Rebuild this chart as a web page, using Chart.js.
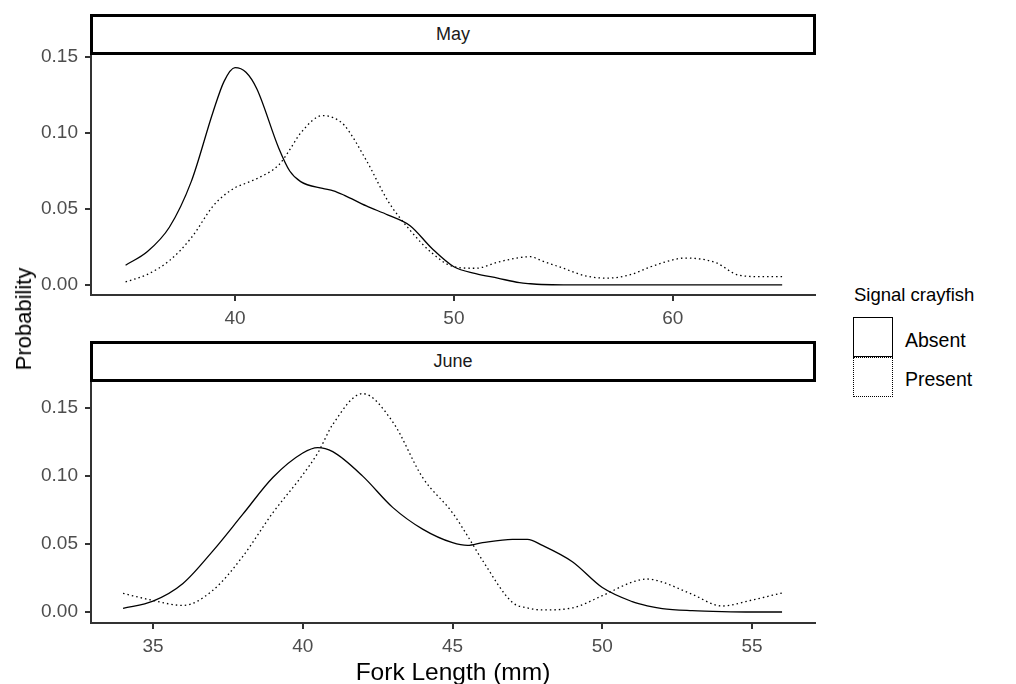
<!DOCTYPE html>
<html>
<head>
<meta charset="utf-8">
<script src="https://cdn.jsdelivr.net/npm/chart.js@4.4.0/dist/chart.umd.min.js"></script>
<style>
  body { margin: 0; background: #fff; font-family: "Liberation Sans", Arial, sans-serif; }
  #wrap { position: relative; width: 1016px; height: 684px; overflow: hidden; }
  .panel { position: absolute; left: 0; width: 820px; }
  .strip { position: absolute; left: 90px; width: 726px; height: 41px; box-sizing: border-box;
           border: 3px solid #000; background: #fff; color: #1a1a1a; font-size: 18px;
           text-align: center; line-height: 35px; }
  .ytitle { position: absolute; left: 24px; top: 319px; transform: translate(-50%, -50%) rotate(-90deg);
            font-size: 22px; color: #000; white-space: nowrap; }
  .xtitle { position: absolute; left: 453px; top: 672px; transform: translate(-50%, -50%);
            font-size: 24.5px; color: #000; white-space: nowrap; }
  .legtitle { position: absolute; left: 854px; top: 284px; font-size: 18.5px; color: #000; white-space: nowrap; }
  .key { position: absolute; left: 853px; width: 40px; height: 40px; box-sizing: border-box; }
  .keylab { position: absolute; left: 905px; font-size: 19.5px; color: #000; }
</style>
</head>
<body>
<div id="wrap">
  <div class="panel" style="top:30px;height:305px;"><canvas id="mayChart"></canvas></div>
  <div class="panel" style="top:357px;height:306px;"><canvas id="juneChart"></canvas></div>
  <div class="strip" style="top:14px;">May</div>
  <div class="strip" style="top:341px;">June</div>
  <div class="ytitle">Probability</div>
  <div class="xtitle">Fork Length (mm)</div>
  <div class="legtitle">Signal crayfish</div>
  <div class="key" style="top:317px;border:1.5px solid #000;"></div>
  <div class="key" style="top:357px;border:1.5px dotted #000;"></div>
  <div class="keylab" style="top:329px;">Absent</div>
  <div class="keylab" style="top:368px;">Present</div>
</div>
<script>
// May
const mayX       = [35, 36, 37, 38, 39, 39.5, 40, 40.5, 41, 42, 42.5, 43, 44, 44.5, 45, 46, 47, 48, 49, 50,
                    51, 52, 53, 53.5, 54, 55, 56, 57, 58, 59, 60, 60.5, 61, 62, 63, 64, 65];
const mayAbsent  = [0.013, 0.022, 0.038, 0.068, 0.114, 0.134, 0.143, 0.140, 0.129, 0.090, 0.075, 0.068, 0.0635, 0.062, 0.059, 0.052, 0.046, 0.039, 0.024, 0.012,
                    0.0075, 0.0045, 0.0015, 0.0008, 0.0003, 0, 0, 0, 0, 0, 0, 0, 0, 0, 0, 0, 0];
const mayPresent = [0.002, 0.007, 0.016, 0.031, 0.052, 0.059, 0.064, 0.067, 0.070, 0.079, 0.089, 0.100, 0.1115, 0.110, 0.105, 0.082, 0.055, 0.036, 0.021, 0.012,
                    0.011, 0.015, 0.018, 0.0186, 0.016, 0.011, 0.006, 0.0045, 0.0065, 0.012, 0.0165, 0.0177, 0.0175, 0.0145, 0.0065, 0.0055, 0.0055];
const mayXTicks = [40, 50, 60];

// June
const juneX       = [34, 35, 36, 37, 38, 39, 40, 40.5, 41, 42, 43, 44, 45, 45.5, 46, 47, 47.5, 48, 49, 50,
                     51, 51.5, 52, 53, 54, 55, 56];
const juneAbsent  = [0.0027, 0.008, 0.021, 0.045, 0.072, 0.099, 0.117, 0.121, 0.118, 0.100, 0.077, 0.061, 0.051, 0.049, 0.051, 0.0535, 0.0535, 0.049, 0.037, 0.018,
                     0.0076, 0.0045, 0.0025, 0.001, 0.0003, 0, 0];
const junePresent = [0.0137, 0.0085, 0.0048, 0.016, 0.041, 0.073, 0.101, 0.117, 0.138, 0.1607, 0.140, 0.099, 0.073, 0.056, 0.038, 0.007, 0.003, 0.0015, 0.003, 0.012,
                     0.022, 0.0243, 0.022, 0.013, 0.0044, 0.0088, 0.014];
const juneXTicks = [35, 40, 45, 50, 55];

const yTicks = [0, 0.05, 0.1, 0.15];

function toPoints(xs, ys) {
  return xs.map((x, i) => ({ x: x, y: ys[i] }));
}

// パネル1枚分のチャートを作る
function makePanel(id, xs, absent, present, xRange, yRange, xTicks) {
  const axisStyle = {
    border: { display: true, color: "#333", width: 2 },
    grid: { drawOnChartArea: false, drawTicks: true, tickLength: 6, color: "#333", lineWidth: 2 },
  };
  new Chart(document.getElementById(id), {
    type: "line",
    data: {
      datasets: [
        { label: "Absent", data: toPoints(xs, absent), borderColor: "#000", borderWidth: 1.3 },
        { label: "Present", data: toPoints(xs, present), borderColor: "#000", borderWidth: 1.3, borderDash: [1.5, 3] },
      ],
    },
    options: {
      responsive: true,
      maintainAspectRatio: false,
      animation: false,
      layout: { padding: { top: 24, right: 5, left: 0, bottom: 0 } },
      elements: { point: { radius: 0 }, line: { cubicInterpolationMode: "monotone", fill: false } },
      plugins: { legend: { display: false }, tooltip: { enabled: false } },
      scales: {
        x: Object.assign({
          type: "linear",
          min: xRange[0],
          max: xRange[1],
          afterBuildTicks: (s) => { s.ticks = xTicks.map((v) => ({ value: v })); },
          afterFit: (s) => { s.height = 40; s.paddingLeft = 0; s.paddingRight = 0; },
          ticks: { color: "#4d4d4d", font: { family: "Liberation Sans", size: 19 }, padding: 6, maxRotation: 0 },
        }, axisStyle),
        y: Object.assign({
          min: yRange[0],
          max: yRange[1],
          afterBuildTicks: (s) => { s.ticks = yTicks.map((v) => ({ value: v })); },
          afterFit: (s) => { s.width = 91; s.paddingTop = 0; s.paddingBottom = 0; },
          ticks: {
            color: "#4d4d4d", font: { family: "Liberation Sans", size: 19 }, padding: 7,
            callback: (v) => Number(v).toFixed(2),
          },
        }, axisStyle),
      },
    },
  });
}

makePanel("mayChart", mayX, mayAbsent, mayPresent, [33.42, 66.5], [-0.0066, 0.152], mayXTicks);
makePanel("juneChart", juneX, juneAbsent, junePresent, [32.93, 57.1], [-0.0081, 0.170], juneXTicks);
</script>
</body>
</html>
